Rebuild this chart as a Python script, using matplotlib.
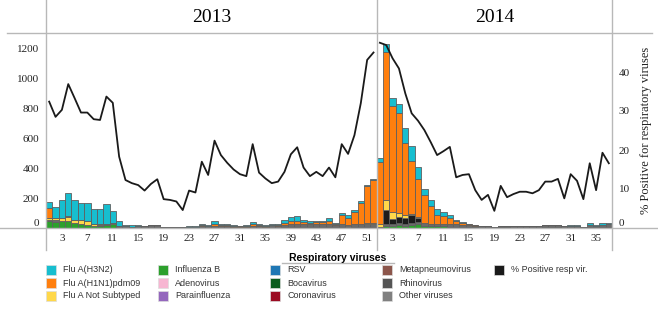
import numpy as np
import matplotlib
matplotlib.use('Agg')
import matplotlib.pyplot as plt
import matplotlib.transforms as mtransforms
from matplotlib.lines import Line2D
from matplotlib.patches import Rectangle

# semanas: 52 em 2013, 37 em 2014
weeks_2013 = list(range(1, 53))
weeks_2014 = list(range(1, 38))

# numero de amostras positivas por virus (2013)
h3n2_13 = [40, 70, 115, 155, 135, 115, 120, 100, 100, 130, 80, 35, 8, 10, 5, 3, 3, 0, 3, 2,
           2, 0, 5, 3, 5, 5, 20, 5, 10, 5, 3, 5, 15, 5, 5, 8, 10, 20, 30, 35,
           15, 10, 10, 8, 15, 5, 15, 15, 10, 10, 10, 10]
h1n1_13 = [65, 5, 5, 5, 0, 0, 0, 0, 0, 0, 0, 0, 0, 0, 0, 0, 0, 0, 0, 0,
           0, 0, 0, 0, 8, 0, 10, 8, 5, 5, 3, 5, 10, 5, 5, 5, 5, 15, 15, 15,
           10, 10, 15, 12, 25, 10, 60, 50, 85, 140, 245, 285]
notsub_13 = [15, 10, 20, 25, 20, 30, 25, 10, 5, 5, 5, 0, 0, 0, 0, 0, 0, 0, 0, 0,
             0, 0, 0, 0, 0, 0, 0, 0, 0, 0, 0, 0, 0, 0, 0, 0, 0, 0, 0, 0,
             0, 0, 0, 0, 0, 0, 0, 0, 0, 5, 10, 10]
dark_13 = [0] * 52
flub_13 = [45, 40, 45, 50, 35, 25, 20, 15, 15, 20, 25, 0, 0, 0, 0, 0, 0, 0, 0, 0,
           0, 0, 0, 0, 0, 0, 3, 0, 0, 0, 0, 0, 3, 0, 0, 3, 3, 5, 5, 5,
           5, 5, 5, 5, 5, 5, 5, 3, 5, 5, 5, 5]
other_13 = [10, 15, 0, 0, 0, 0, 0, 0, 5, 5, 5, 15, 12, 10, 15, 12, 17, 20, 7, 8,
            8, 8, 10, 9, 12, 15, 12, 12, 15, 10, 9, 10, 12, 15, 10, 14, 12, 15, 25, 25,
            25, 20, 20, 20, 20, 15, 20, 17, 20, 20, 20, 20]

# 2014
h3n2_14 = [25, 55, 55, 60, 100, 105, 75, 40, 45, 35, 25, 15, 10, 8, 5, 3, 0, 0, 0, 0,
           0, 0, 0, 0, 0, 0, 0, 0, 0, 0, 8, 8, 0, 12, 5, 12, 10]
h1n1_14 = [415, 990, 705, 670, 480, 350, 255, 185, 115, 65, 55, 45, 20, 12, 8, 5, 3, 0, 0, 0,
           0, 0, 0, 0, 0, 0, 0, 0, 0, 0, 0, 0, 0, 0, 0, 0, 0]
notsub_14 = [15, 65, 50, 25, 15, 10, 5] + [0] * 30
dark_14 = [5, 90, 35, 40, 40, 50, 30] + [0] * 30
flub_14 = [5, 15, 15, 20, 15, 20, 25, 15, 15, 12, 12, 10, 8, 7, 5, 5, 3, 3, 3, 5,
           5, 3, 3, 3, 3, 3, 5, 5, 5, 3, 3, 3, 3, 10, 5, 10, 10]
other_14 = [0, 15, 10, 15, 15, 15, 15, 20, 15, 13, 13, 15, 17, 15, 12, 7, 9, 9, 7, 10,
            10, 9, 9, 9, 12, 12, 13, 13, 13, 9, 9, 9, 7, 13, 10, 13, 15]

# % positivos para virus respiratorios
pct_13 = [32.4, 28.5, 30.3, 36.9, 33.3, 29.6, 29.6, 27.9, 27.7, 33.7, 32.1, 18.3, 12.3, 11.5,
          11.0, 9.6, 11.3, 12.5, 7.4, 7.2, 6.8, 4.6, 9.6, 9.1, 17.0, 13.6, 22.4, 18.7, 16.7,
          15.0, 13.8, 13.3, 21.5, 14.2, 12.7, 11.5, 11.9, 14.4, 18.9, 20.7, 15.5, 13.3, 14.4,
          13.3, 15.5, 13.0, 21.5, 19.0, 23.8, 32.0, 43.1, 45.0]
pct_14 = [47.5, 46.9, 43.5, 40.9, 34.5, 29.4, 27.5, 25.1, 22.0, 18.7, 19.7, 20.8, 13.0, 13.6,
          13.8, 9.7, 7.2, 8.5, 4.4, 10.8, 7.9, 8.7, 9.3, 9.3, 8.9, 9.7, 11.9, 11.9, 12.6, 7.6,
          13.8, 12.1, 7.4, 16.6, 9.7, 19.3, 16.6]

years = ['2013', '2014']
tick_weeks_2013 = list(range(3, 53, 4))
tick_weeks_2014 = list(range(3, 38, 4))

legend_names = ['Flu A(H3N2)', 'Flu A(H1N1)pdm09', 'Flu A Not Subtyped',
                'Influenza B', 'Adenovirus', 'Parainfluenza',
                'RSV', 'Bocavirus', 'Coronavirus',
                'Metapneumovirus', 'Rhinovirus', 'Other viruses',
                '% Positive resp vir.']
legend_colors = ['#17becf', '#ff7f0e', '#ffd84a',
                 '#2ca02c', '#f7b6d2', '#9467bd',
                 '#1f77b4', '#0b5d1e', '#9b0b22',
                 '#8c564b', '#555555', '#808080',
                 '#1a1a1a']

serif = ['Liberation Serif', 'DejaVu Serif']
sans = ['Liberation Sans', 'DejaVu Sans']
W, H = 658, 310
grey = '#b8b8b8'

n13 = len(weeks_2013)
x13 = np.arange(1, n13 + 1)
x14 = np.arange(n13 + 1, n13 + len(weeks_2014) + 1)
x_all = np.concatenate([x13, x14])

fig = plt.figure(figsize=(W / 100, H / 100), dpi=100)
ax = fig.add_axes([46 / W, 1 - 228 / H, 566 / W, 195 / H])

# barras empilhadas (de baixo para cima)
stack = [
    (flub_13 + flub_14, '#2ca02c'),
    (other_13 + other_14, '#6b6b6b'),
    (dark_13 + dark_14, '#1c1c1c'),
    (notsub_13 + notsub_14, '#ffd84a'),
    (h1n1_13 + h1n1_14, '#ff7f0e'),
    (h3n2_13 + h3n2_14, '#17becf'),
]
bottom = np.zeros(len(x_all))
for vals, col in stack:
    vals = np.array(vals, dtype=float)
    ax.bar(x_all, vals, bottom=bottom, width=1.0, color=col,
           edgecolor='#5f5f5f', linewidth=0.6, zorder=2)
    bottom += vals

ax.set_xlim(0.5, x_all[-1] + 0.5)
ax.set_ylim(0, 1300)
ax.set_yticks(range(0, 1201, 200))
ax.set_xticks(list(tick_weeks_2013) + [n13 + w for w in tick_weeks_2014])
ax.set_xticklabels([str(w) for w in tick_weeks_2013] + [str(w) for w in tick_weeks_2014])
for s in ax.spines.values():
    s.set_visible(False)
ax.tick_params(length=0, labelsize=8, colors='#222222')
ax.tick_params(axis='y', pad=5)
ax.tick_params(axis='x', pad=4)
for lab in ax.get_xticklabels() + ax.get_yticklabels():
    lab.set_family(serif)

# linha da % de positivos
ax2 = ax.twinx()
ax2.plot(x13, pct_13, color='#1a1a1a', lw=1.3, zorder=3)
ax2.plot(x14, pct_14, color='#1a1a1a', lw=1.3, zorder=3)
ax2.set_ylim(0, 50)
ax2.set_yticks(range(0, 41, 10))
ax2.set_xlim(ax.get_xlim())
for s in ax2.spines.values():
    s.set_visible(False)
ax2.tick_params(length=0, labelsize=8, colors='#222222', pad=5)
for lab in ax2.get_yticklabels():
    lab.set_family(serif)
ax2.set_ylabel('% Positive for respiratory viruses', family=serif, fontsize=9,
               labelpad=7, color='#222222')

# o "0" dos dois eixos fica um pouco acima da linha base
up = mtransforms.ScaledTranslation(0, 5 / 100, fig.dpi_scale_trans)
for a in (ax, ax2):
    lab0 = a.get_yticklabels()[0]
    lab0.set_transform(lab0.get_transform() + up)

# linhas do cabecalho e divisorias
def fline(xs, ys):
    fig.add_artist(Line2D([v / W for v in xs], [1 - v / H for v in ys],
                          transform=fig.transFigure, color=grey, lw=1))

fline([7, 652], [33, 33])
fline([0, W], [228, 228])
for xv in [46, 377, 612]:
    fline([xv, xv], [0, 250])

fig.text(212 / W, 1 - 17 / H, years[0], ha='center', va='center', fontsize=14, family=serif)
fig.text(495 / W, 1 - 17 / H, years[1], ha='center', va='center', fontsize=14, family=serif)

# legenda
fig.text(338 / W, 1 - 258 / H, 'Respiratory viruses', ha='center', va='center',
         fontsize=7.5, fontweight='bold', family=sans)
fline([282, 394], [263, 263])
for i, (name, col) in enumerate(zip(legend_names, legend_colors)):
    c, r = divmod(i, 3)
    bx = 46 + c * 112
    by = 270 + r * 13
    fig.add_artist(Rectangle((bx / W, 1 - (by + 5) / H), 10 / W, 10 / H,
                             transform=fig.transFigure, facecolor=col,
                             edgecolor='#dddddd', lw=0.5))
    fig.text((bx + 17) / W, 1 - by / H, name, ha='left', va='center',
             fontsize=6.5, family=sans, color='#333333')

fig.savefig('out.png', dpi=100)
